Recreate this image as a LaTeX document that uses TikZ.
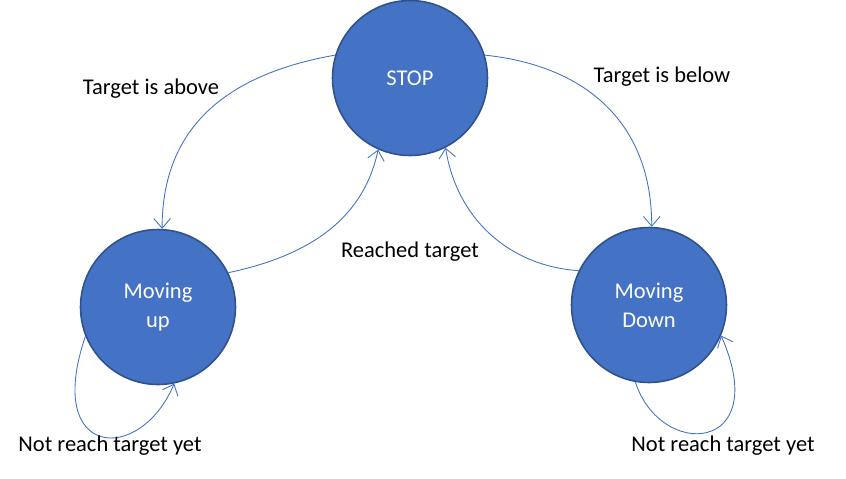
\documentclass[tikz,border=0pt]{standalone}
\usepackage{fontspec}
\setmainfont{Carlito}
\usetikzlibrary{arrows.meta}
\definecolor{cFill}{HTML}{4472C4}
\definecolor{cEdge}{HTML}{2F528F}

\begin{document}
\begin{tikzpicture}[
    x=0.02cm, y=0.02cm,
    >={Straight Barb[length=5.5pt, width=9.5pt]},
    state/.style={
        circle, draw=cEdge, fill=cFill, line width=0.9pt,
        minimum size=3.1cm, inner sep=0pt, align=center,
        text=white, font=\fontsize{12.8}{16.4}\selectfont
    },
    lbl/.style={font=\fontsize{12.8}{15}\selectfont, inner sep=0pt},
    arr/.style={->, draw=cFill, line width=0.5pt},
]
\useasboundingbox (0,0) rectangle (846,-478);

% =============================================
% STATES
% =============================================
\node[state] (stop) at (410,-78) {STOP};
\node[state] (up)   at (158,-307) {Moving\\up};
\node[state] (down) at (649,-305) {Moving\\Down};

% =============================================
% TRANSITIONS
% =============================================
\draw[arr] (stop.163) to[out=190, in=90, looseness=1.1] (up.87);
\draw[arr] (up.26) to[out=12, in=258] (stop.246);
\draw[arr] (stop.17) to[out=-6, in=90, looseness=1.1] (down.88);
\draw[arr] (down.154) to[out=176, in=279] (stop.297);

% self loops
\draw[arr] (up.202) .. controls +(-42,-122) and +(-35,-82) .. (up.282);
\draw[arr] (down.260) .. controls +(25,-78) and +(52,-118) .. (down.337);

% =============================================
% LABELS
% =============================================
\node[lbl] (labove) at (151,-89) {Target is above};
\node[lbl] (lbelow) at (662,-77) {Target is below};
\node[lbl] (lreach) at (410,-252) {Reached target};
\node[lbl] (lupyet) at (110,-446) {Not reach target yet};
\node[lbl] (ldnyet) at (723,-446) {Not reach target yet};

\end{tikzpicture}
\end{document}
